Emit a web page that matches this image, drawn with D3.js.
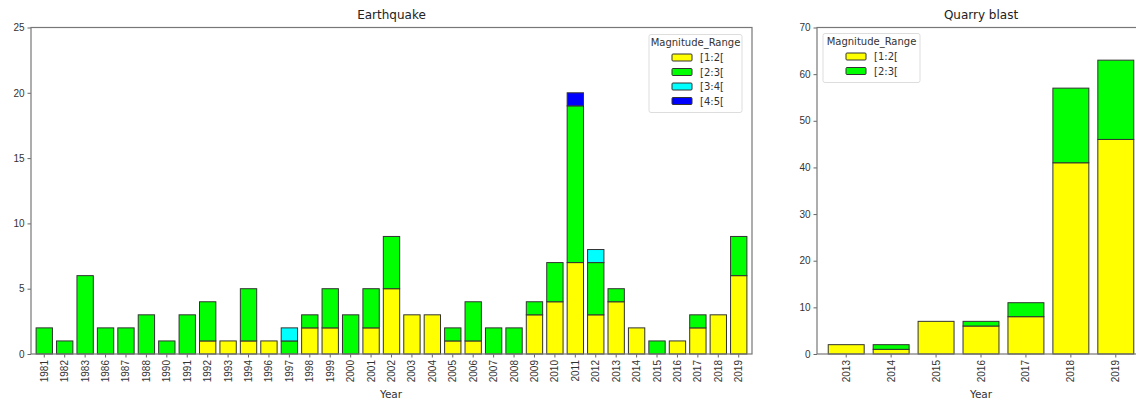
<!DOCTYPE html>
<html>
<head>
<meta charset="utf-8">
<script src="https://cdn.jsdelivr.net/npm/d3@7"></script>
<style>
  body { margin: 0; background: #fff; }
  svg { display: block; font-family: "DejaVu Sans", sans-serif; }
  .tick text { fill: #333; font-size: 10px; }
  .domain { display: none; }
  .tick line { stroke: #666; }
</style>
</head>
<body>
<div id="vis"></div>
<script>
// ---- data ----
var ranges = ["[1:2[", "[2:3[", "[3:4[", "[4:5["];
var rangeColors = ["#ffff00", "#00ff00", "#00ffff", "#0000ff"];

var eqYears = ["1981", "1982", "1983", "1986", "1987", "1988", "1990", "1991", "1992", "1993",
               "1994", "1996", "1997", "1998", "1999", "2000", "2001", "2002", "2003", "2004",
               "2005", "2006", "2007", "2008", "2009", "2010", "2011", "2012", "2013", "2014",
               "2015", "2016", "2017", "2018", "2019"];
var eqMag12 = [0, 0, 0, 0, 0, 0, 0, 0, 1, 1, 1, 1, 0, 2, 2, 0, 2, 5, 3, 3, 1, 1, 0, 0, 3, 4, 7, 3, 4, 2, 0, 1, 2, 3, 6];
var eqMag23 = [2, 1, 6, 2, 2, 3, 1, 3, 3, 0, 4, 0, 1, 1, 3, 3, 3, 4, 0, 0, 1, 3, 2, 2, 1, 3, 12, 4, 1, 0, 1, 0, 1, 0, 3];
var eqMag34 = [0, 0, 0, 0, 0, 0, 0, 0, 0, 0, 0, 0, 1, 0, 0, 0, 0, 0, 0, 0, 0, 0, 0, 0, 0, 0, 0, 1, 0, 0, 0, 0, 0, 0, 0];
var eqMag45 = [0, 0, 0, 0, 0, 0, 0, 0, 0, 0, 0, 0, 0, 0, 0, 0, 0, 0, 0, 0, 0, 0, 0, 0, 0, 0, 1, 0, 0, 0, 0, 0, 0, 0, 0];
var eqTicks = [0, 5, 10, 15, 20, 25];

var qbYears = ["2013", "2014", "2015", "2016", "2017", "2018", "2019"];
var qbMag12 = [2, 1, 7, 6, 8, 41, 46];
var qbMag23 = [0, 1, 0, 1, 3, 16, 17];
var qbTicks = [0, 10, 20, 30, 40, 50, 60, 70];

var svg = d3.select("#vis")
    .append("svg")
    .attr("width", 1136)
    .attr("height", 401);

function buildRows(years, series) {
    return years.map(function (yr, i) {
        var row = { year: yr };
        series.forEach(function (s, k) { row[ranges[k]] = s[i]; });
        return row;
    });
}

function drawPanel(opt) {
    var width = opt.right - opt.left,
        height = opt.bottom - opt.top;
    var keys = ranges.slice(0, opt.series.length);
    var rows = buildRows(opt.years, opt.series);

    var g = svg.append("g")
        .attr("transform", "translate(" + opt.left + "," + opt.top + ")");

    var x = d3.scaleBand()
        .domain(opt.years)
        .range([0, width])
        .paddingInner(0.2)
        .paddingOuter(0.25);
    var y = d3.scaleLinear()
        .domain([0, opt.ymax])
        .range([height, 0]);

    var color = d3.scaleOrdinal().domain(ranges).range(rangeColors);

    var stack = d3.stack().keys(keys)(rows);

    g.selectAll("g.layer")
        .data(stack)
        .enter().append("g")
        .attr("class", "layer")
        .style("fill", d => color(d.key))
        .selectAll("rect")
        .data(d => d.filter(p => p[1] > p[0]))
        .enter().append("rect")
        .attr("x", d => x(d.data.year))
        .attr("y", d => y(d[1]))
        .attr("width", x.bandwidth())
        .attr("height", d => y(d[0]) - y(d[1]))
        .attr("stroke", "#333")
        .attr("stroke-width", 1);

    // axes
    g.append("g")
        .attr("class", "y axis")
        .call(d3.axisLeft(y).tickValues(opt.ticks).tickSize(3.5).tickPadding(3));

    var xa = g.append("g")
        .attr("class", "x axis")
        .attr("transform", "translate(0," + height + ")")
        .call(d3.axisBottom(x).tickSize(3.5));
    xa.selectAll("text")
        .attr("transform", "rotate(-90)")
        .attr("x", -6)
        .attr("y", 0)
        .attr("dy", "0.35em")
        .style("text-anchor", "end");

    // frame
    g.append("rect")
        .attr("width", width)
        .attr("height", height)
        .attr("fill", "none")
        .attr("stroke", "#777")
        .attr("stroke-width", 1.2);

    g.append("text")
        .attr("x", width / 2)
        .attr("y", -9)
        .attr("text-anchor", "middle")
        .style("font-size", "12px")
        .style("fill", "#222")
        .text(opt.title);

    g.append("text")
        .attr("x", opt.xlabelX - opt.left)
        .attr("y", height + 44)
        .attr("text-anchor", "middle")
        .style("font-size", "10.5px")
        .style("fill", "#333")
        .text("Year");

    // legend
    var lg = g.append("g")
        .attr("transform", "translate(" + opt.legend.x + "," + opt.legend.y + ")");
    lg.append("rect")
        .attr("width", opt.legend.w)
        .attr("height", 20 + keys.length * 14.5)
        .attr("fill", "#fff")
        .attr("stroke", "#ddd")
        .attr("rx", 2);
    lg.append("text")
        .attr("x", opt.legend.w / 2)
        .attr("y", 11)
        .attr("text-anchor", "middle")
        .style("font-size", "10px")
        .style("fill", "#333")
        .text("Magnitude_Range");
    var item = lg.selectAll("g.item")
        .data(keys)
        .enter().append("g")
        .attr("class", "item")
        .attr("transform", (d, i) => "translate(" + opt.legend.hx + "," + (23 + i * 14.5) + ")");
    item.append("rect")
        .attr("width", 20)
        .attr("height", 7)
        .attr("y", -3.5)
        .attr("rx", 1)
        .attr("fill", d => color(d))
        .attr("stroke", "#333");
    item.append("text")
        .attr("x", 28)
        .attr("y", 0)
        .attr("dy", "0.35em")
        .style("font-size", "10px")
        .style("fill", "#333")
        .text(d => d);
}

drawPanel({
    title: "Earthquake",
    years: eqYears,
    series: [eqMag12, eqMag23, eqMag34, eqMag45],
    ticks: eqTicks,
    ymax: 25,
    left: 31, right: 752, top: 27.5, bottom: 354,
    xlabelX: 391,
    legend: { x: 618, y: 7, w: 93, hx: 23 }
});

drawPanel({
    title: "Quarry blast",
    years: qbYears,
    series: [qbMag12, qbMag23],
    ticks: qbTicks,
    ymax: 70,
    left: 817, right: 1145, top: 27.5, bottom: 354,
    xlabelX: 981,
    legend: { x: 6, y: 6, w: 97, hx: 23 }
});
</script>
</body>
</html>
